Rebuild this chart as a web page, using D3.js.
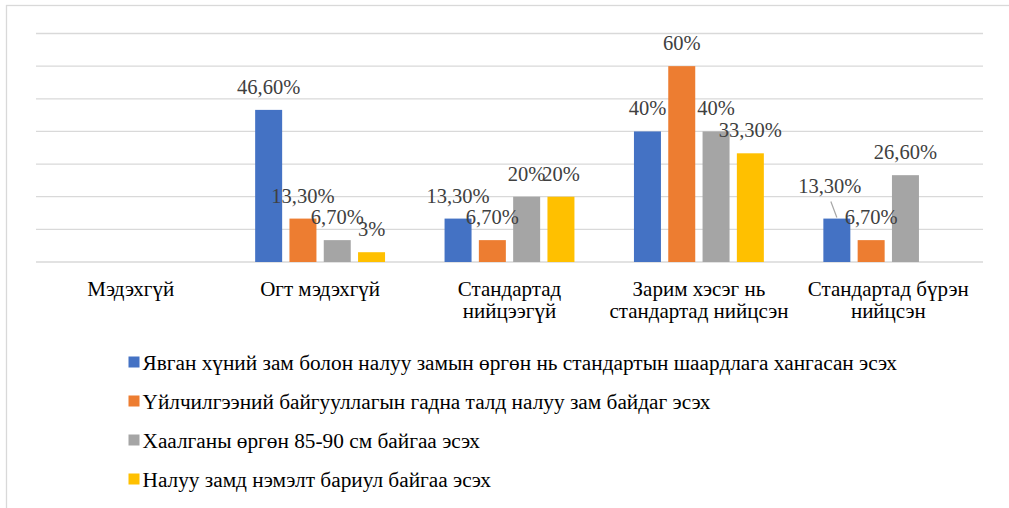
<!DOCTYPE html>
<html><head><meta charset="utf-8">
<script src="https://cdn.jsdelivr.net/npm/d3@7"></script>
</head>
<body style="margin:0;background:#fff"><svg id="c" width="1009" height="508" style="display:block"></svg>
<script>
const categories = [["Мэдэхгүй"],["Огт мэдэхгүй"],["Стандартад","нийцээгүй"],["Зарим хэсэг нь","стандартад нийцсэн"],["Стандартад бүрэн","нийцсэн"]];
const seriesNames = [
  "Явган хүний зам болон налуу замын өргөн нь стандартын шаардлага хангасан эсэх",
  "Үйлчилгээний байгууллагын гадна талд налуу зам байдаг эсэх",
  "Хаалганы өргөн 85-90 см байгаа эсэх",
  "Налуу замд нэмэлт бариул байгаа эсэх"
];
const colors = ["#4472C4","#ED7D31","#A5A5A5","#FFC000"];
const s1 = [null, 46.6, 13.3, 40, 13.3];
const s2 = [null, 13.3, 6.7, 60, 6.7];
const s3 = [null, 6.7, 20, 40, 26.6];
const s4 = [null, 3, 20, 33.3, null];
const labels1 = ["", "46,60%", "13,30%", "40%", "13,30%"];
const labels2 = ["", "13,30%", "6,70%", "60%", "6,70%"];
const labels3 = ["", "6,70%", "20%", "40%", "26,60%"];
const labels4 = ["", "3%", "20%", "33,30%", ""];
const yTicks = [0,10,20,30,40,50,60,70];

const series = [s1,s2,s3,s4];
const labels = [labels1,labels2,labels3,labels4];
const FONT = "Liberation Serif";

const svg = d3.select("#c");
svg.append("rect").attr("x",6.5).attr("y",5.5).attr("width",1020).attr("height",520)
  .attr("fill","none").attr("stroke","#d9d9d9").attr("stroke-width",1.3);

const pL = 36, pR = 983, pT = 33.5, pB = 262;
const x0 = d3.scaleBand().domain(d3.range(categories.length)).range([pL,pR]).padding(0);
const x1 = d3.scaleBand().domain(d3.range(series.length)).range([0,x0.bandwidth()]).paddingInner(0.213).paddingOuter(0.8675);
const y = d3.scaleLinear().domain([0,70]).range([pB,pT]);

svg.append("g").selectAll("line").data(yTicks).join("line")
  .attr("x1",pL).attr("x2",pR)
  .attr("y1",d=>y(d)).attr("y2",d=>y(d))
  .attr("stroke","#d9d9d9").attr("stroke-width",1.3);

const items = [];
series.forEach((s,si)=>s.forEach((v,ci)=>{ if(v!=null) items.push({si,ci,v,label:labels[si][ci]}); }));

svg.append("g").selectAll("rect").data(items).join("rect")
  .attr("x",d=>x0(d.ci)+x1(d.si)).attr("width",x1.bandwidth())
  .attr("y",d=>y(d.v)).attr("height",d=>y(0)-y(d.v))
  .attr("fill",d=>colors[d.si]);

const lg = svg.append("g");
items.forEach(d=>{
  const cx = x0(d.ci)+x1(d.si)+x1.bandwidth()/2;
  let tx = cx, ty = y(d.v)-16;
  if(d.si===0 && d.ci===4){
    tx = cx-7; ty = y(d.v)-26;
    svg.append("line").attr("x1",tx+1).attr("y1",ty+9).attr("x2",cx).attr("y2",y(d.v)-1)
      .attr("stroke","#a6a6a6").attr("stroke-width",1.2);
  }
  lg.append("text").attr("x",tx).attr("y",ty).attr("font-family",FONT).attr("font-size",20.5)
    .attr("fill","#404040").attr("text-anchor","middle").text(d.label);
});

const cg = svg.append("g");
categories.forEach((lines,i)=>{
  const cx = x0(i)+x0.bandwidth()/2;
  lines.forEach((t,k)=>cg.append("text").attr("x",cx).attr("y",296+k*22)
    .attr("font-family",FONT).attr("font-size",21).attr("fill","#000").attr("text-anchor","middle").text(t));
});

const leg = svg.append("g");
seriesNames.forEach((n,i)=>{
  const cy = 362 + i*39;
  leg.append("rect").attr("x",128.5).attr("y",cy-5.5).attr("width",11).attr("height",11).attr("fill",colors[i]);
  leg.append("text").attr("x",142.5).attr("y",cy+7.5).attr("font-family",FONT).attr("font-size",21.3).attr("fill","#000").text(n);
});
</script></body></html>
